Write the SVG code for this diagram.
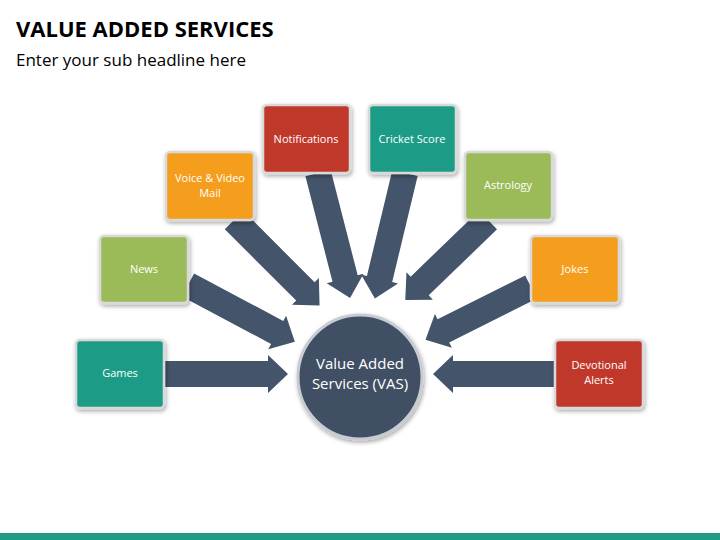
<svg xmlns="http://www.w3.org/2000/svg" width="720" height="540" viewBox="0 0 720 540">
<style>
.t{font-family:"Open Sans","Liberation Sans",sans-serif;fill:#fff;font-size:11px;text-anchor:middle}
.b{stroke:#d9d9d9;stroke-width:2.5}
.a{fill:#44546a}
.teal{fill:#1f9c86}.green{fill:#9bbb59}.orange{fill:#f59d1e}.red{fill:#c0392b}
</style>
<defs>
<filter id="sh" x="-20%" y="-20%" width="140%" height="140%"><feDropShadow dx="1" dy="2" stdDeviation="2" flood-opacity="0.35"/></filter>
</defs>
<rect width="720" height="540" fill="#fff"/>
<text x="16" y="37" font-family="'Open Sans','Liberation Sans',sans-serif" font-weight="bold" font-size="22" fill="#000">VALUE ADDED SERVICES</text>
<text x="16" y="66" font-family="'Open Sans','Liberation Sans',sans-serif" font-size="17" fill="#000">Enter your sub headline here</text>
<rect x="0" y="533" width="720" height="7" fill="#1f9c86"/>
<g id="connectors" class="a">
<path transform="translate(165,374) rotate(0)" d="M0,-13H103V-19L123,0L103,19V13H0Z"/>
<path transform="translate(188,285) rotate(28)" d="M0,-13H101V-19L121,0L101,19V13H0Z"/>
<path transform="translate(234,220) rotate(45)" d="M0,-13H101V-19L121,0L101,19V13H0Z"/>
<path transform="translate(318,173) rotate(75.6)" d="M0,-13H109V-19L129,0L109,19V13H0Z"/>
<path transform="translate(405,173) rotate(103.5)" d="M0,-13H109V-19L129,0L109,19V13H0Z"/>
<path transform="translate(488,220) rotate(136)" d="M0,-13H95V-19L115,0L95,19V13H0Z"/>
<path transform="translate(531,287) rotate(153.4)" d="M0,-13H98V-19L118,0L98,19V13H0Z"/>
<path transform="translate(555,374) rotate(180)" d="M0,-13H102V-19L122,0L102,19V13H0Z"/>
</g>
<g id="center"><circle cx="360" cy="377" r="62" fill="#3f5064" stroke="#c8ccd2" stroke-width="3" filter="url(#sh)"/>
<text class="t" style="font-size:15px" x="360" y="369">Value Added</text><text class="t" style="font-size:15px" x="360" y="389">Services (VAS)</text></g>
<g id="games"><rect class="b teal" x="76" y="340" width="88" height="68" rx="4" filter="url(#sh)"/><text class="t" x="120" y="377">Games</text></g>
<g id="news"><rect class="b green" x="100" y="236" width="88" height="67" rx="4" filter="url(#sh)"/><text class="t" x="144" y="273">News</text></g>
<g id="voice"><rect class="b orange" x="166" y="152" width="88" height="68" rx="4" filter="url(#sh)"/><text class="t" x="210" y="182">Voice &amp; Video</text><text class="t" x="210" y="197">Mail</text></g>
<g id="notifications"><rect class="b red" x="263" y="105" width="87" height="68" rx="4" filter="url(#sh)"/><text class="t" x="306" y="143">Notifications</text></g>
<g id="cricket"><rect class="b teal" x="369" y="105" width="87" height="68" rx="4" filter="url(#sh)"/><text class="t" x="412" y="143">Cricket Score</text></g>
<g id="astrology"><rect class="b green" x="465" y="152" width="87" height="68" rx="4" filter="url(#sh)"/><text class="t" x="508" y="189">Astrology</text></g>
<g id="jokes"><rect class="b orange" x="531" y="236" width="88" height="67" rx="4" filter="url(#sh)"/><text class="t" x="575" y="273">Jokes</text></g>
<g id="devotional"><rect class="b red" x="555" y="340" width="88" height="68" rx="4" filter="url(#sh)"/><text class="t" x="599" y="369">Devotional</text><text class="t" x="599" y="384">Alerts</text></g>
</svg>
